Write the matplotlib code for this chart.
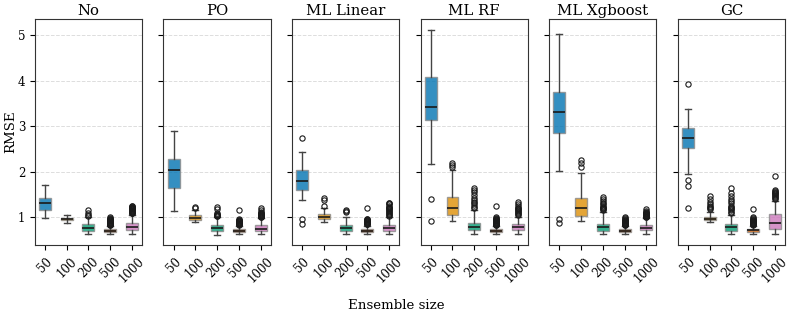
import numpy as np
import matplotlib.pyplot as plt

plt.rcParams['font.family'] = ['DejaVu Serif']

methods = ['No', 'PO', 'ML Linear', 'ML RF', 'ML Xgboost', 'GC']
sizes = ['50', '100', '200', '500', '1000']
colors = ['#0173b2', '#de8f05', '#029e73', '#d55e00', '#cc78bc']

# box summaries per method, one value per ensemble size
whislo = {
    'No':         [0.98, 0.88, 0.62, 0.63, 0.62],
    'PO':         [1.13, 0.89, 0.60, 0.63, 0.63],
    'ML Linear':  [1.37, 0.90, 0.62, 0.63, 0.63],
    'ML RF':      [2.16, 0.92, 0.63, 0.63, 0.63],
    'ML Xgboost': [2.01, 0.91, 0.62, 0.63, 0.63],
    'GC':         [1.95, 0.90, 0.62, 0.63, 0.63],
}
q1 = {
    'No':         [1.16, 0.93, 0.70, 0.67, 0.72],
    'PO':         [1.64, 0.93, 0.70, 0.67, 0.70],
    'ML Linear':  [1.59, 0.96, 0.70, 0.67, 0.70],
    'ML RF':      [3.13, 1.04, 0.71, 0.67, 0.71],
    'ML Xgboost': [2.84, 1.02, 0.70, 0.68, 0.71],
    'GC':         [2.53, 0.94, 0.70, 0.67, 0.74],
}
med = {
    'No':         [1.32, 0.95, 0.77, 0.70, 0.79],
    'PO':         [2.03, 0.98, 0.77, 0.70, 0.75],
    'ML Linear':  [1.79, 1.00, 0.76, 0.70, 0.76],
    'ML RF':      [3.43, 1.20, 0.79, 0.70, 0.78],
    'ML Xgboost': [3.30, 1.20, 0.78, 0.70, 0.76],
    'GC':         [2.75, 0.97, 0.78, 0.71, 0.88],
}
q3 = {
    'No':         [1.42, 0.98, 0.84, 0.74, 0.87],
    'PO':         [2.28, 1.04, 0.83, 0.73, 0.82],
    'ML Linear':  [2.03, 1.06, 0.83, 0.74, 0.83],
    'ML RF':      [4.07, 1.45, 0.88, 0.74, 0.84],
    'ML Xgboost': [3.76, 1.42, 0.86, 0.74, 0.82],
    'GC':         [2.95, 1.01, 0.85, 0.75, 1.07],
}
whishi = {
    'No':         [1.71, 1.05, 1.00, 0.80, 1.05],
    'PO':         [2.89, 1.15, 1.00, 0.80, 0.98],
    'ML Linear':  [2.43, 1.20, 1.00, 0.80, 1.00],
    'ML RF':      [5.11, 2.03, 1.15, 0.80, 1.00],
    'ML Xgboost': [5.02, 1.98, 1.12, 0.80, 0.98],
    'GC':         [3.37, 1.12, 1.05, 0.80, 1.35],
}
fliers = {
    'No': [[], [],
           [1.03, 1.05, 1.10, 1.15],
           [0.82, 0.83, 0.84, 0.85, 0.86, 0.87, 0.88, 0.89, 0.90, 0.91, 0.92,
            0.93, 0.94, 0.95, 0.96, 0.98, 1.00],
           [1.08, 1.09, 1.10, 1.11, 1.12, 1.13, 1.14, 1.15, 1.16, 1.17, 1.18,
            1.19, 1.20, 1.21, 1.22, 1.23, 1.24, 1.25]],
    'PO': [[], [1.20, 1.22],
           [1.02, 1.03, 1.04, 1.05, 1.06, 1.10, 1.18, 1.22],
           [0.83, 0.84, 0.85, 0.86, 0.87, 0.88, 0.89, 0.90, 0.91, 0.92, 0.93,
            0.94, 0.95, 1.16],
           [1.00, 1.01, 1.02, 1.03, 1.04, 1.05, 1.06, 1.07, 1.08, 1.10, 1.12,
            1.15, 1.20]],
    'ML Linear': [[2.75, 0.96, 0.85], [1.25, 1.38, 1.42],
                  [1.12, 1.13, 1.15],
                  [0.84, 0.85, 0.86, 0.87, 0.88, 0.89, 0.90, 0.91, 0.92, 0.93,
                   0.94, 0.95, 0.97, 1.20],
                  [1.03, 1.05, 1.07, 1.09, 1.11, 1.13, 1.15, 1.17, 1.19, 1.21,
                   1.23, 1.25, 1.28, 1.30, 1.32]],
    'ML RF': [[1.39, 0.91], [2.10, 2.15, 2.20],
              [1.20, 1.23, 1.26, 1.30, 1.34, 1.38, 1.42, 1.48, 1.55, 1.60, 1.65],
              [0.82, 0.83, 0.84, 0.85, 0.86, 0.87, 0.88, 0.89, 0.90, 0.91,
               0.92, 0.93, 0.94, 0.95, 0.96, 0.98, 1.00, 1.25],
              [1.05, 1.07, 1.09, 1.11, 1.13, 1.15, 1.17, 1.19, 1.21, 1.24,
               1.28, 1.33]],
    'ML Xgboost': [[0.95, 0.87], [2.10, 2.18, 2.26],
                   [1.15, 1.17, 1.19, 1.21, 1.23, 1.25, 1.28, 1.31, 1.35, 1.40,
                    1.45],
                   [0.82, 0.83, 0.84, 0.85, 0.86, 0.87, 0.88, 0.89, 0.90, 0.91,
                    0.92, 0.93, 0.94, 0.96, 0.98, 1.00],
                   [1.00, 1.01, 1.02, 1.03, 1.04, 1.05, 1.06, 1.07, 1.08, 1.09,
                    1.10, 1.12, 1.14, 1.17]],
    'GC': [[3.92, 1.81, 1.68, 1.20], [1.17, 1.19, 1.22, 1.25, 1.28, 1.34, 1.40,
                                      1.46],
           [1.10, 1.12, 1.15, 1.18, 1.20, 1.23, 1.25, 1.30, 1.35, 1.40, 1.46,
            1.52, 1.65],
           [0.83, 0.84, 0.85, 0.86, 0.87, 0.88, 0.89, 0.90, 0.91, 0.92, 0.93,
            0.94, 0.96, 0.98, 1.00, 1.17],
           [1.40, 1.42, 1.44, 1.46, 1.48, 1.50, 1.52, 1.54, 1.56, 1.58, 1.60,
            1.90]],
}

fig, axes = plt.subplots(1, 6, figsize=(7.93, 3.2), dpi=100, sharey=True)
fig.subplots_adjust(left=0.044, right=0.99, top=0.94, bottom=0.234, wspace=0.2)

for ax, m in zip(axes, methods):
    stats = []
    for i in range(len(sizes)):
        stats.append(dict(whislo=whislo[m][i], q1=q1[m][i], med=med[m][i],
                          q3=q3[m][i], whishi=whishi[m][i], fliers=fliers[m][i]))
    bp = ax.bxp(stats, positions=np.arange(len(sizes)), widths=0.55,
                patch_artist=True, showfliers=True,
                boxprops=dict(edgecolor='#8a8a8a', linewidth=1.0),
                whiskerprops=dict(color='#444444', linewidth=1.0),
                capprops=dict(color='#444444', linewidth=1.0),
                medianprops=dict(color='#1a1a1a', linewidth=1.2),
                flierprops=dict(marker='o', markersize=3.8, markerfacecolor='none',
                                markeredgecolor='#1a1a1a', markeredgewidth=0.8))
    for patch, c in zip(bp['boxes'], colors):
        patch.set_facecolor(c)
        patch.set_alpha(0.8)
    ax.set_title(m, fontsize=10.7, pad=3)
    ax.set_xticks(np.arange(len(sizes)))
    ax.set_xticklabels(sizes, rotation=45, fontsize=8.5)
    ax.set_xlim(-0.46, 4.46)
    ax.set_ylim(0.385, 5.35)
    ax.set_yticks([1, 2, 3, 4, 5])
    ax.yaxis.grid(True, linestyle='--', color='#dddddd', linewidth=0.7)
    ax.set_axisbelow(True)
    ax.tick_params(labelsize=8.5)
    for s in ax.spines.values():
        s.set_color('#333333')

fig.text(0.014, 0.5875, 'RMSE', rotation=90, ha='center', va='center', fontsize=9.6)
fig.text(0.5, 0.035, 'Ensemble size', ha='center', fontsize=9.6)

plt.savefig('out.png')
